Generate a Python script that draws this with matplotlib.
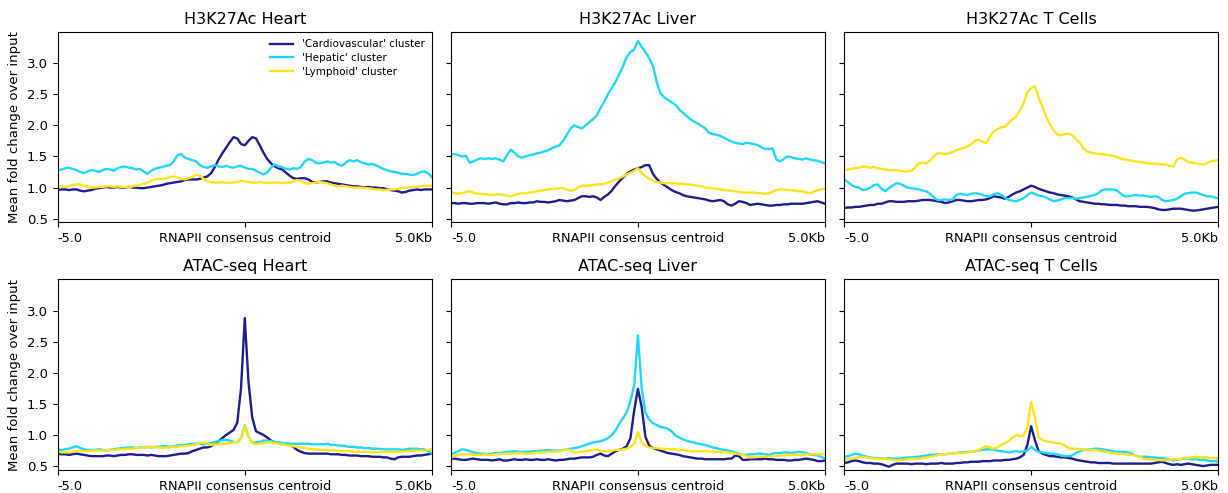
import numpy as np
import matplotlib
matplotlib.use("Agg")
import matplotlib.pyplot as plt

# profile bins: -5kb .. +5kb around the RNAPII consensus centroid, 0.1kb steps
bins = np.linspace(-5, 5, 101)

titles = ["H3K27Ac Heart", "H3K27Ac Liver", "H3K27Ac T Cells",
          "ATAC-seq Heart", "ATAC-seq Liver", "ATAC-seq T Cells"]
labels = ["'Cardiovascular' cluster", "'Hepatic' cluster", "'Lymphoid' cluster"]
colors = ["#1e1e8c", "#22d6fb", "#fde31c"]

# ---- H3K27Ac Heart
k27_heart_cardio = [
    0.96, 0.97, 0.97, 0.96, 0.97, 0.97, 0.95, 0.94, 0.95, 0.96,
    0.98, 0.99, 1.00, 1.01, 1.00, 1.00, 1.01, 1.00, 1.00, 1.01,
    1.00, 1.00, 0.99, 0.99, 1.00, 1.01, 1.02, 1.03, 1.04, 1.06,
    1.07, 1.08, 1.09, 1.10, 1.12, 1.13, 1.13, 1.13, 1.14, 1.16,
    1.18, 1.23, 1.33, 1.45, 1.55, 1.64, 1.73, 1.81, 1.79, 1.70,
    1.68, 1.75, 1.81, 1.79, 1.68, 1.56, 1.46, 1.39, 1.34, 1.31,
    1.29, 1.24, 1.19, 1.15, 1.14, 1.15, 1.15, 1.13, 1.09, 1.08,
    1.09, 1.10, 1.10, 1.08, 1.07, 1.06, 1.05, 1.04, 1.03, 1.02,
    1.02, 1.01, 1.00, 1.01, 1.00, 1.00, 0.99, 0.99, 0.97, 0.96,
    0.95, 0.94, 0.92, 0.93, 0.95, 0.96, 0.97, 0.96, 0.97, 0.97,
    0.97]
k27_heart_hep = [
    1.28, 1.29, 1.31, 1.32, 1.30, 1.28, 1.25, 1.23, 1.26, 1.28,
    1.27, 1.25, 1.28, 1.30, 1.29, 1.27, 1.31, 1.33, 1.34, 1.32,
    1.31, 1.29, 1.30, 1.26, 1.22, 1.27, 1.30, 1.32, 1.33, 1.35,
    1.36, 1.42, 1.52, 1.54, 1.48, 1.46, 1.44, 1.42, 1.36, 1.33,
    1.32, 1.34, 1.36, 1.34, 1.33, 1.35, 1.33, 1.32, 1.34, 1.35,
    1.32, 1.30, 1.30, 1.27, 1.24, 1.21, 1.24, 1.32, 1.37, 1.34,
    1.33, 1.30, 1.29, 1.31, 1.30, 1.33, 1.42, 1.46, 1.44, 1.40,
    1.39, 1.40, 1.42, 1.40, 1.41, 1.37, 1.35, 1.40, 1.44, 1.42,
    1.44, 1.41, 1.39, 1.37, 1.38, 1.36, 1.33, 1.30, 1.28, 1.26,
    1.25, 1.24, 1.22, 1.22, 1.21, 1.20, 1.22, 1.25, 1.26, 1.23,
    1.17]
k27_heart_lymph = [
    1.02, 1.02, 1.01, 1.02, 1.04, 1.05, 1.05, 1.03, 1.01, 1.00,
    1.00, 1.01, 1.01, 1.02, 1.02, 1.01, 1.02, 1.01, 1.01, 1.00,
    1.02, 1.03, 1.04, 1.06, 1.08, 1.11, 1.13, 1.14, 1.14, 1.15,
    1.17, 1.18, 1.16, 1.14, 1.13, 1.15, 1.17, 1.21, 1.19, 1.14,
    1.10, 1.09, 1.08, 1.08, 1.09, 1.07, 1.08, 1.08, 1.09, 1.11,
    1.10, 1.09, 1.08, 1.08, 1.09, 1.08, 1.07, 1.08, 1.08, 1.08,
    1.07, 1.08, 1.08, 1.10, 1.12, 1.11, 1.07, 1.06, 1.07, 1.08,
    1.09, 1.08, 1.07, 1.05, 1.03, 1.02, 1.03, 1.02, 1.01, 1.00,
    1.00, 1.00, 0.99, 0.99, 0.98, 0.97, 0.97, 0.96, 0.96, 0.97,
    0.97, 0.98, 0.99, 1.00, 1.00, 1.01, 1.01, 1.02, 1.03, 1.03,
    1.03]

# ---- H3K27Ac Liver
k27_liver_cardio = [
    0.75, 0.75, 0.74, 0.75, 0.75, 0.74, 0.74, 0.75, 0.75, 0.75,
    0.74, 0.75, 0.76, 0.74, 0.73, 0.73, 0.75, 0.75, 0.76, 0.75,
    0.75, 0.76, 0.76, 0.78, 0.77, 0.77, 0.76, 0.77, 0.78, 0.80,
    0.79, 0.78, 0.79, 0.80, 0.83, 0.86, 0.86, 0.85, 0.86, 0.84,
    0.80, 0.85, 0.89, 0.95, 1.03, 1.10, 1.16, 1.22, 1.26, 1.29,
    1.31, 1.33, 1.36, 1.36, 1.22, 1.14, 1.08, 1.04, 1.00, 0.96,
    0.93, 0.91, 0.88, 0.86, 0.85, 0.84, 0.83, 0.82, 0.81, 0.79,
    0.78, 0.79, 0.80, 0.78, 0.73, 0.71, 0.74, 0.78, 0.77, 0.75,
    0.72, 0.73, 0.74, 0.73, 0.72, 0.71, 0.71, 0.72, 0.72, 0.73,
    0.73, 0.74, 0.74, 0.74, 0.74, 0.75, 0.76, 0.77, 0.78, 0.76,
    0.74]
k27_liver_hep = [
    1.53, 1.54, 1.52, 1.50, 1.51, 1.40, 1.42, 1.45, 1.47, 1.46,
    1.47, 1.46, 1.47, 1.45, 1.42, 1.52, 1.61, 1.56, 1.50, 1.48,
    1.50, 1.52, 1.53, 1.55, 1.56, 1.58, 1.60, 1.63, 1.66, 1.68,
    1.75, 1.85, 1.95, 2.00, 1.97, 1.95, 2.00, 2.05, 2.10, 2.16,
    2.28, 2.38, 2.50, 2.60, 2.70, 2.82, 2.95, 3.10, 3.18, 3.22,
    3.36, 3.26, 3.18, 3.08, 2.96, 2.70, 2.52, 2.45, 2.41, 2.37,
    2.33, 2.26, 2.20, 2.15, 2.10, 2.06, 2.03, 1.99, 1.95, 1.88,
    1.86, 1.85, 1.83, 1.80, 1.77, 1.74, 1.72, 1.71, 1.70, 1.72,
    1.71, 1.70, 1.68, 1.65, 1.62, 1.62, 1.63, 1.45, 1.42, 1.46,
    1.50, 1.49, 1.47, 1.46, 1.45, 1.47, 1.45, 1.44, 1.43, 1.41,
    1.39]
k27_liver_lymph = [
    0.92, 0.91, 0.90, 0.91, 0.93, 0.94, 0.92, 0.90, 0.90, 0.89,
    0.89, 0.88, 0.89, 0.89, 0.88, 0.87, 0.86, 0.88, 0.90, 0.91,
    0.91, 0.92, 0.93, 0.94, 0.95, 0.96, 0.97, 0.98, 0.98, 0.99,
    0.99, 0.97, 0.95, 0.96, 1.00, 1.03, 1.03, 1.03, 1.04, 1.05,
    1.05, 1.06, 1.08, 1.10, 1.13, 1.15, 1.18, 1.21, 1.24, 1.27,
    1.31, 1.24, 1.18, 1.14, 1.11, 1.09, 1.08, 1.07, 1.07, 1.07,
    1.07, 1.06, 1.06, 1.05, 1.05, 1.04, 1.03, 1.02, 1.00, 0.99,
    0.99, 0.98, 0.97, 0.96, 0.95, 0.95, 0.94, 0.93, 0.92, 0.92,
    0.92, 0.92, 0.91, 0.91, 0.90, 0.91, 0.93, 0.96, 0.97, 0.97,
    0.96, 0.96, 0.95, 0.94, 0.94, 0.92, 0.91, 0.93, 0.96, 0.97,
    0.98]

# ---- H3K27Ac T Cells
k27_tcell_cardio = [
    0.67, 0.68, 0.68, 0.69, 0.69, 0.70, 0.71, 0.72, 0.72, 0.74,
    0.74, 0.76, 0.78, 0.78, 0.77, 0.77, 0.77, 0.78, 0.78, 0.78,
    0.79, 0.80, 0.80, 0.80, 0.79, 0.78, 0.77, 0.75, 0.76, 0.78,
    0.80, 0.80, 0.79, 0.78, 0.78, 0.79, 0.80, 0.80, 0.81, 0.83,
    0.86, 0.85, 0.84, 0.82, 0.85, 0.89, 0.92, 0.94, 0.97, 1.00,
    1.03, 1.01, 0.98, 0.96, 0.94, 0.92, 0.91, 0.89, 0.88, 0.87,
    0.86, 0.84, 0.81, 0.78, 0.77, 0.76, 0.75, 0.74, 0.74, 0.73,
    0.73, 0.72, 0.72, 0.72, 0.71, 0.71, 0.70, 0.70, 0.70, 0.69,
    0.69, 0.69, 0.68, 0.67, 0.65, 0.64, 0.64, 0.65, 0.66, 0.66,
    0.66, 0.65, 0.64, 0.63, 0.63, 0.64, 0.65, 0.66, 0.67, 0.68,
    0.69]
k27_tcell_hep = [
    1.13, 1.09, 1.04, 1.01, 1.00, 0.96, 0.97, 1.00, 1.04, 1.05,
    0.98, 0.94, 0.99, 1.03, 1.07, 1.06, 1.03, 1.00, 0.99, 0.98,
    0.97, 0.95, 0.94, 0.90, 0.84, 0.80, 0.80, 0.81, 0.80, 0.81,
    0.88, 0.90, 0.89, 0.88, 0.90, 0.91, 0.90, 0.88, 0.86, 0.86,
    0.89, 0.91, 0.88, 0.84, 0.80, 0.79, 0.78, 0.80, 0.83, 0.88,
    0.92, 0.90, 0.87, 0.86, 0.84, 0.81, 0.78, 0.79, 0.81, 0.83,
    0.83, 0.83, 0.82, 0.83, 0.84, 0.85, 0.87, 0.88, 0.91, 0.96,
    0.97, 0.97, 0.97, 0.95, 0.90, 0.86, 0.86, 0.87, 0.88, 0.87,
    0.87, 0.86, 0.85, 0.86, 0.85, 0.80, 0.78, 0.79, 0.80, 0.82,
    0.86, 0.90, 0.91, 0.92, 0.92, 0.90, 0.88, 0.86, 0.86, 0.84,
    0.83]
k27_tcell_lymph = [
    1.28, 1.29, 1.30, 1.31, 1.32, 1.34, 1.33, 1.32, 1.33, 1.31,
    1.30, 1.29, 1.28, 1.28, 1.28, 1.27, 1.26, 1.26, 1.27, 1.32,
    1.39, 1.40, 1.39, 1.44, 1.50, 1.55, 1.55, 1.54, 1.55, 1.57,
    1.60, 1.62, 1.64, 1.66, 1.70, 1.75, 1.77, 1.74, 1.71, 1.82,
    1.90, 1.94, 1.97, 1.98, 2.04, 2.10, 2.14, 2.24, 2.35, 2.54,
    2.60, 2.63, 2.45, 2.30, 2.14, 2.02, 1.92, 1.85, 1.84, 1.86,
    1.87, 1.84, 1.78, 1.72, 1.63, 1.58, 1.56, 1.55, 1.54, 1.54,
    1.53, 1.52, 1.51, 1.49, 1.46, 1.45, 1.44, 1.43, 1.42, 1.41,
    1.40, 1.39, 1.39, 1.38, 1.38, 1.37, 1.37, 1.35, 1.34, 1.45,
    1.48, 1.45, 1.41, 1.40, 1.39, 1.38, 1.37, 1.39, 1.42, 1.43,
    1.44]

# ---- ATAC-seq Heart
atac_heart_cardio = [
    0.70, 0.69, 0.69, 0.68, 0.69, 0.70, 0.69, 0.68, 0.67, 0.66,
    0.66, 0.66, 0.66, 0.67, 0.67, 0.66, 0.67, 0.68, 0.68, 0.69,
    0.69, 0.68, 0.68, 0.68, 0.67, 0.68, 0.67, 0.66, 0.66, 0.66,
    0.67, 0.68, 0.69, 0.70, 0.70, 0.71, 0.74, 0.76, 0.78, 0.80,
    0.80, 0.82, 0.86, 0.90, 0.95, 1.00, 1.04, 1.08, 1.20, 1.75,
    2.88, 1.85, 1.28, 1.06, 1.03, 1.00, 0.96, 0.91, 0.88, 0.87,
    0.87, 0.86, 0.84, 0.81, 0.76, 0.73, 0.71, 0.70, 0.70, 0.70,
    0.70, 0.70, 0.70, 0.69, 0.69, 0.69, 0.68, 0.68, 0.67, 0.67,
    0.67, 0.66, 0.66, 0.66, 0.65, 0.65, 0.65, 0.64, 0.64, 0.62,
    0.61, 0.64, 0.65, 0.65, 0.65, 0.66, 0.67, 0.67, 0.68, 0.69,
    0.70]
atac_heart_hep = [
    0.77, 0.76, 0.77, 0.78, 0.80, 0.82, 0.79, 0.77, 0.76, 0.76,
    0.76, 0.77, 0.76, 0.75, 0.76, 0.77, 0.78, 0.79, 0.79, 0.80,
    0.80, 0.79, 0.80, 0.80, 0.81, 0.80, 0.81, 0.81, 0.82, 0.82,
    0.81, 0.82, 0.83, 0.84, 0.84, 0.85, 0.86, 0.86, 0.86, 0.85,
    0.86, 0.87, 0.89, 0.90, 0.92, 0.92, 0.91, 0.89, 0.88, 0.95,
    1.16, 0.98, 0.87, 0.88, 0.89, 0.91, 0.91, 0.90, 0.89, 0.88,
    0.87, 0.87, 0.86, 0.86, 0.86, 0.86, 0.86, 0.86, 0.85, 0.85,
    0.85, 0.85, 0.86, 0.84, 0.84, 0.83, 0.83, 0.82, 0.81, 0.81,
    0.80, 0.80, 0.79, 0.79, 0.78, 0.78, 0.78, 0.77, 0.77, 0.77,
    0.77, 0.77, 0.76, 0.77, 0.78, 0.78, 0.78, 0.77, 0.77, 0.74,
    0.70]
atac_heart_lymph = [
    0.73, 0.72, 0.72, 0.73, 0.73, 0.74, 0.74, 0.74, 0.74, 0.75,
    0.75, 0.75, 0.75, 0.76, 0.76, 0.76, 0.77, 0.77, 0.77, 0.78,
    0.78, 0.79, 0.79, 0.80, 0.80, 0.81, 0.80, 0.80, 0.79, 0.80,
    0.80, 0.81, 0.81, 0.82, 0.82, 0.83, 0.84, 0.85, 0.87, 0.88,
    0.86, 0.84, 0.85, 0.85, 0.86, 0.86, 0.87, 0.88, 0.89, 0.96,
    1.15, 0.97, 0.87, 0.85, 0.86, 0.87, 0.88, 0.88, 0.87, 0.86,
    0.85, 0.84, 0.83, 0.82, 0.81, 0.80, 0.79, 0.78, 0.77, 0.77,
    0.76, 0.76, 0.76, 0.75, 0.75, 0.75, 0.74, 0.74, 0.74, 0.73,
    0.73, 0.73, 0.73, 0.73, 0.72, 0.72, 0.73, 0.73, 0.73, 0.73,
    0.73, 0.73, 0.73, 0.74, 0.74, 0.75, 0.75, 0.75, 0.75, 0.76,
    0.77]

# ---- ATAC-seq Liver
atac_liver_cardio = [
    0.62, 0.62, 0.61, 0.60, 0.60, 0.61, 0.62, 0.61, 0.60, 0.60,
    0.60, 0.59, 0.60, 0.61, 0.59, 0.59, 0.60, 0.61, 0.60, 0.60,
    0.61, 0.60, 0.60, 0.61, 0.60, 0.60, 0.61, 0.60, 0.59, 0.60,
    0.60, 0.61, 0.62, 0.62, 0.63, 0.64, 0.64, 0.64, 0.65, 0.68,
    0.70, 0.67, 0.66, 0.70, 0.74, 0.76, 0.78, 0.82, 0.95, 1.40,
    1.74, 1.45, 0.97, 0.83, 0.79, 0.77, 0.75, 0.73, 0.71, 0.70,
    0.69, 0.68, 0.66, 0.65, 0.64, 0.63, 0.62, 0.62, 0.61, 0.61,
    0.61, 0.61, 0.61, 0.61, 0.62, 0.62, 0.67, 0.66, 0.60, 0.60,
    0.61, 0.61, 0.61, 0.61, 0.62, 0.61, 0.61, 0.60, 0.60, 0.60,
    0.59, 0.59, 0.60, 0.60, 0.61, 0.62, 0.61, 0.60, 0.58, 0.58,
    0.59]
atac_liver_hep = [
    0.69, 0.71, 0.74, 0.77, 0.76, 0.74, 0.72, 0.71, 0.70, 0.70,
    0.69, 0.70, 0.71, 0.71, 0.72, 0.73, 0.73, 0.74, 0.73, 0.73,
    0.73, 0.73, 0.74, 0.74, 0.75, 0.75, 0.76, 0.75, 0.75, 0.75,
    0.76, 0.77, 0.78, 0.79, 0.80, 0.82, 0.84, 0.86, 0.88, 0.89,
    0.90, 0.92, 0.95, 1.00, 1.07, 1.18, 1.27, 1.36, 1.55, 1.80,
    2.60, 1.75, 1.36, 1.25, 1.19, 1.16, 1.13, 1.12, 1.10, 1.06,
    0.99, 0.96, 0.93, 0.91, 0.89, 0.88, 0.86, 0.85, 0.84, 0.82,
    0.80, 0.79, 0.77, 0.76, 0.75, 0.74, 0.72, 0.70, 0.68, 0.68,
    0.69, 0.69, 0.70, 0.70, 0.69, 0.68, 0.70, 0.71, 0.71, 0.72,
    0.72, 0.71, 0.72, 0.73, 0.72, 0.71, 0.69, 0.68, 0.67, 0.65,
    0.62]
atac_liver_lymph = [
    0.64, 0.66, 0.68, 0.69, 0.69, 0.69, 0.68, 0.68, 0.68, 0.69,
    0.68, 0.68, 0.69, 0.69, 0.70, 0.70, 0.70, 0.70, 0.71, 0.71,
    0.70, 0.70, 0.71, 0.72, 0.72, 0.72, 0.73, 0.73, 0.73, 0.74,
    0.75, 0.77, 0.75, 0.71, 0.72, 0.73, 0.74, 0.75, 0.76, 0.77,
    0.75, 0.74, 0.74, 0.75, 0.76, 0.76, 0.77, 0.78, 0.81, 0.86,
    1.05, 0.88, 0.83, 0.80, 0.79, 0.79, 0.78, 0.78, 0.77, 0.77,
    0.77, 0.76, 0.76, 0.75, 0.74, 0.74, 0.74, 0.74, 0.74, 0.74,
    0.73, 0.73, 0.73, 0.72, 0.72, 0.71, 0.70, 0.69, 0.68, 0.66,
    0.64, 0.64, 0.65, 0.65, 0.65, 0.65, 0.66, 0.66, 0.67, 0.67,
    0.68, 0.68, 0.68, 0.68, 0.68, 0.69, 0.69, 0.69, 0.69, 0.69,
    0.69]

# ---- ATAC-seq T Cells
atac_tcell_cardio = [
    0.55, 0.56, 0.58, 0.59, 0.58, 0.56, 0.55, 0.55, 0.54, 0.54,
    0.53, 0.51, 0.49, 0.52, 0.54, 0.54, 0.54, 0.54, 0.53, 0.54,
    0.54, 0.54, 0.53, 0.54, 0.54, 0.54, 0.55, 0.54, 0.54, 0.54,
    0.55, 0.55, 0.56, 0.56, 0.57, 0.57, 0.57, 0.58, 0.58, 0.58,
    0.59, 0.59, 0.59, 0.60, 0.60, 0.61, 0.62, 0.64, 0.68, 0.84,
    1.14, 0.92, 0.74, 0.70, 0.68, 0.66, 0.66, 0.65, 0.64, 0.64,
    0.63, 0.62, 0.60, 0.59, 0.58, 0.57, 0.56, 0.56, 0.55, 0.55,
    0.55, 0.55, 0.54, 0.54, 0.54, 0.54, 0.54, 0.54, 0.54, 0.54,
    0.54, 0.54, 0.54, 0.55, 0.56, 0.57, 0.55, 0.53, 0.52, 0.53,
    0.52, 0.53, 0.54, 0.53, 0.52, 0.51, 0.50, 0.51, 0.52, 0.52,
    0.52]
atac_tcell_hep = [
    0.65, 0.66, 0.68, 0.70, 0.69, 0.67, 0.65, 0.64, 0.63, 0.63,
    0.62, 0.62, 0.63, 0.62, 0.62, 0.62, 0.63, 0.64, 0.64, 0.65,
    0.65, 0.66, 0.67, 0.68, 0.68, 0.69, 0.69, 0.69, 0.70, 0.70,
    0.71, 0.72, 0.72, 0.73, 0.73, 0.74, 0.75, 0.76, 0.77, 0.77,
    0.76, 0.75, 0.74, 0.73, 0.72, 0.73, 0.74, 0.73, 0.74, 0.75,
    0.81, 0.76, 0.73, 0.72, 0.71, 0.70, 0.70, 0.69, 0.67, 0.66,
    0.66, 0.67, 0.71, 0.74, 0.76, 0.76, 0.77, 0.78, 0.78, 0.77,
    0.76, 0.75, 0.74, 0.73, 0.73, 0.73, 0.72, 0.70, 0.67, 0.65,
    0.65, 0.65, 0.64, 0.64, 0.63, 0.63, 0.62, 0.60, 0.59, 0.60,
    0.61, 0.62, 0.62, 0.61, 0.61, 0.60, 0.60, 0.59, 0.58, 0.58,
    0.57]
atac_tcell_lymph = [
    0.60, 0.61, 0.62, 0.63, 0.64, 0.65, 0.64, 0.63, 0.62, 0.62,
    0.61, 0.62, 0.61, 0.60, 0.59, 0.60, 0.60, 0.61, 0.62, 0.62,
    0.62, 0.63, 0.64, 0.65, 0.66, 0.68, 0.69, 0.69, 0.70, 0.70,
    0.71, 0.71, 0.71, 0.72, 0.73, 0.74, 0.76, 0.79, 0.82, 0.80,
    0.78, 0.80, 0.84, 0.87, 0.90, 0.96, 1.00, 0.98, 0.99, 1.13,
    1.53, 1.29, 0.96, 0.92, 0.90, 0.89, 0.88, 0.87, 0.86, 0.83,
    0.79, 0.78, 0.78, 0.77, 0.77, 0.76, 0.76, 0.76, 0.75, 0.74,
    0.73, 0.72, 0.71, 0.70, 0.70, 0.69, 0.68, 0.68, 0.67, 0.65,
    0.62, 0.61, 0.61, 0.60, 0.60, 0.59, 0.60, 0.60, 0.61, 0.61,
    0.62, 0.63, 0.63, 0.64, 0.65, 0.64, 0.64, 0.64, 0.63, 0.63,
    0.62]

panels = [
    (k27_heart_cardio, k27_heart_hep, k27_heart_lymph),
    (k27_liver_cardio, k27_liver_hep, k27_liver_lymph),
    (k27_tcell_cardio, k27_tcell_hep, k27_tcell_lymph),
    (atac_heart_cardio, atac_heart_hep, atac_heart_lymph),
    (atac_liver_cardio, atac_liver_hep, atac_liver_lymph),
    (atac_tcell_cardio, atac_tcell_hep, atac_tcell_lymph),
]

fig, axes = plt.subplots(2, 3, figsize=(12.28, 4.93), dpi=100, sharey=True)
fig.subplots_adjust(left=0.047, right=0.992, top=0.935, bottom=0.047,
                    wspace=0.051, hspace=0.30)

for i, ax in enumerate(axes.flat):
    for series, lab, col in zip(panels[i], labels, colors):
        ax.plot(bins, series, color=col, lw=1.7, label=lab)
    ax.set_title(titles[i], fontsize=11.5)
    ax.set_xlim(-5, 5)
    ax.set_ylim(0.44, 3.5)
    ax.set_yticks([0.5, 1.0, 1.5, 2.0, 2.5, 3.0])
    ax.set_xticks([-5, 0, 5])
    ax.set_xticklabels(["-5.0", "RNAPII consensus centroid", "5.0Kb"], fontsize=9.3)
    tl = ax.get_xticklabels()
    tl[0].set_horizontalalignment("left")
    tl[2].set_horizontalalignment("right")
    ax.tick_params(axis="y", labelsize=9.5)
    if i % 3 == 0:
        ax.set_ylabel("Mean fold change over input", fontsize=9.5)

axes[0, 0].legend(loc="upper right", frameon=False, fontsize=7.5,
                  handlelength=2.2, borderaxespad=0.3, labelspacing=0.35)

fig.savefig("out.png", dpi=100)
